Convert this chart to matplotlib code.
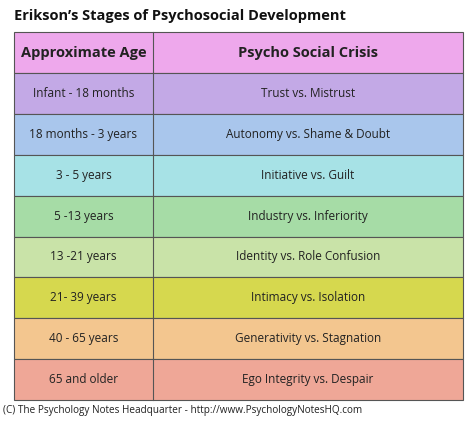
import matplotlib.pyplot as plt
from matplotlib.patches import Rectangle

title = "Erikson’s Stages of Psychosocial Development"
headers = ["Approximate Age", "Psycho Social Crisis"]
ages = ["Infant - 18 months", "18 months - 3 years", "3 - 5 years", "5 -13 years",
        "13 -21 years", "21- 39 years", "40 - 65 years", "65 and older"]
crises = ["Trust vs. Mistrust", "Autonomy vs. Shame & Doubt", "Initiative vs. Guilt",
          "Industry vs. Inferiority", "Identity vs. Role Confusion", "Intimacy vs. Isolation",
          "Generativity vs. Stagnation", "Ego Integrity vs. Despair"]
header_color = "#EEA8EC"
row_colors = ["#C3A9E6", "#A9C6EC", "#A7E2E6", "#A6DCA6", "#C9E3A8", "#D6D84E", "#F3C68F", "#EFA797"]
footer = "(C) The Psychology Notes Headquarter - http://www.PsychologyNotesHQ.com"

W, H = 474, 421
fig = plt.figure(figsize=(W/100, H/100), dpi=100)
ax = fig.add_axes([0, 0, 1, 1])
ax.set_xlim(0, W); ax.set_ylim(H, 0); ax.axis("off")
plt.rcParams['font.family'] = ['Open Sans', 'DejaVu Sans']

x0, xm, x1 = 14, 153, 463
top, hb, bot = 32, 73, 400
rh = (bot - hb) / len(ages)
edge = "#555555"

ax.add_patch(Rectangle((x0, top), x1-x0, hb-top, fc=header_color, ec=edge, lw=0.8))
ax.plot([xm, xm], [top, hb], color=edge, lw=0.8)
ax.text((x0+xm)/2, (top+hb)/2, headers[0], ha="center", va="center", fontsize=10.5, fontweight="bold", color="#222")
ax.text((xm+x1)/2, (top+hb)/2, headers[1], ha="center", va="center", fontsize=10.5, fontweight="bold", color="#222")
for i, (a, c) in enumerate(zip(ages, crises)):
    y = hb + i*rh
    ax.add_patch(Rectangle((x0, y), x1-x0, rh, fc=row_colors[i], ec=edge, lw=0.8))
    ax.plot([xm, xm], [y, y+rh], color=edge, lw=0.8)
    ax.text((x0+xm)/2, y+rh/2, a, ha="center", va="center", fontsize=8.5, color="#222")
    ax.text((xm+x1)/2, y+rh/2, c, ha="center", va="center", fontsize=8.5, color="#222")

ax.text(14, 16, title, ha="left", va="center", fontsize=10.5, fontweight="bold", color="#111")
ax.text(3, 411, footer, ha="left", va="center", fontsize=7.2, color="#222")
fig.savefig("out.png", dpi=100)
